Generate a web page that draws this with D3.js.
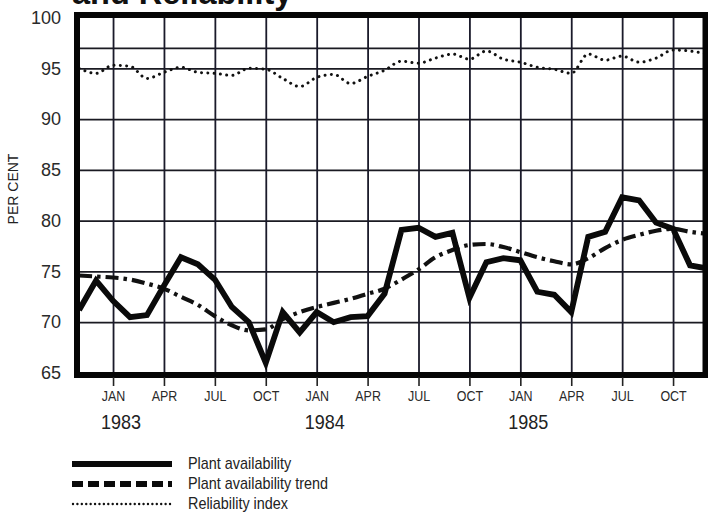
<!DOCTYPE html>
<html>
<head>
<meta charset="utf-8">
<script src="https://cdn.jsdelivr.net/npm/d3@7"></script>
<style>
  html, body { margin: 0; padding: 0; background: #fff; }
  svg { display: block; }
</style>
</head>
<body>
<svg id="chart" width="708" height="518"></svg>
<script>
// ---- data (monthly, Nov 1982 .. Dec 1985) ----
const monthIndex = d3.range(38); // 0 = Nov 1982
const plantAvailability = [71.2, 74.1,
  72.1, 70.5, 70.7, 73.6, 76.4, 75.7, 74.2, 71.5, 70.0, 66.0, 71.0, 69.0,
  71.0, 70.0, 70.5, 70.6, 72.8, 79.1, 79.3, 78.4, 78.8, 72.4, 75.9, 76.3,
  76.1, 73.0, 72.7, 71.0, 78.4, 78.9, 82.3, 82.0, 79.8, 79.2, 75.6, 75.3];
const availabilityTrend = [74.6, 74.5,
  74.4, 74.2, 73.8, 73.3, 72.5, 71.7, 70.6, 69.7, 69.2, 69.3, 70.3, 71.0,
  71.5, 71.9, 72.3, 72.8, 73.3, 74.2, 75.2, 76.4, 77.1, 77.6, 77.7, 77.4,
  76.9, 76.4, 76.0, 75.7, 76.3, 77.3, 78.1, 78.6, 79.0, 79.2, 78.9, 78.7];
const reliabilityIndex = [95.0, 94.5,
  95.3, 95.2, 94.0, 94.6, 95.1, 94.6, 94.5, 94.3, 95.0, 94.9, 94.0, 93.2,
  94.1, 94.4, 93.5, 94.2, 94.8, 95.7, 95.5, 96.0, 96.4, 95.9, 96.7, 95.9,
  95.6, 95.1, 94.9, 94.5, 96.4, 95.8, 96.2, 95.6, 96.0, 96.8, 96.7, 96.4];
const quarterTicks = [2, 5, 8, 11, 14, 17, 20, 23, 26, 29, 32, 35];
const quarterLabels = ["JAN", "APR", "JUL", "OCT"];
const years = [{label: "1983", m: 2}, {label: "1984", m: 14}, {label: "1985", m: 26}];
const yTicks = [65, 70, 75, 80, 85, 90, 95, 100];
const yGrid = [70, 75, 80, 85, 90, 95, 97];
const legendItems = ["Plant availability", "Plant availability trend", "Reliability index"];

// ---- layout ----
const svg = d3.select("#chart");
const x = d3.scaleLinear().domain([0, 37]).range([79.1, 707]);
const y = d3.scaleLinear().domain([65, 100]).range([373, 17.5]);
const frame = {left: 77, top: 15, right: 705.5, bottom: 375};
const FONT = "Liberation Sans, Arial, Helvetica, sans-serif";

// title (cut off at top, as in the source)
svg.append("text")
  .attr("x", 72).attr("y", 4)
  .attr("font-family", FONT)
  .attr("font-weight", "bold").attr("font-size", 32.5)
  .attr("fill", "#111")
  .text("and Reliability");

// horizontal gridlines
const gGridY = svg.append("g")
  .attr("transform", `translate(${frame.left},0)`)
  .call(d3.axisLeft(y).tickValues(yGrid).tickSize(-(frame.right - frame.left)).tickFormat(""));
gGridY.select(".domain").remove();
gGridY.selectAll(".tick line").attr("stroke", "#1a1a22").attr("stroke-width", 1.8);

// vertical gridlines
const gGridX = svg.append("g")
  .attr("transform", `translate(0,${frame.top})`)
  .call(d3.axisBottom(x).tickValues(quarterTicks).tickSize(frame.bottom - frame.top).tickFormat(""));
gGridX.select(".domain").remove();
gGridX.selectAll(".tick line").attr("stroke", "#1a1a2a").attr("stroke-width", 1.8);

// clip for data lines
svg.append("clipPath").attr("id", "plotclip")
  .append("rect").attr("x", frame.left).attr("y", frame.top)
  .attr("width", frame.right - frame.left).attr("height", frame.bottom - frame.top);

const plot = svg.append("g").attr("clip-path", "url(#plotclip)");

const lineFor = (arr, curve) => d3.line()
  .x((d, i) => x(monthIndex[i]))
  .y(d => y(d))
  .curve(curve)(arr);

// reliability index (dotted)
plot.append("path")
  .attr("d", lineFor(reliabilityIndex, d3.curveMonotoneX))
  .attr("fill", "none").attr("stroke", "#111")
  .attr("stroke-width", 3).attr("stroke-linecap", "round")
  .attr("stroke-dasharray", "0.01,6.3");

// trend (dash-dot)
plot.append("path")
  .attr("d", lineFor(availabilityTrend, d3.curveMonotoneX))
  .attr("fill", "none").attr("stroke", "#111")
  .attr("stroke-width", 4.2)
  .attr("stroke-dasharray", "13,5,3.5,5");

// plant availability (solid)
plot.append("path")
  .attr("d", lineFor(plantAvailability, d3.curveLinear))
  .attr("fill", "none").attr("stroke", "#0a0a0a")
  .attr("stroke-width", 5.8).attr("stroke-linejoin", "miter").attr("stroke-miterlimit", 3);

// frame
svg.append("rect")
  .attr("x", frame.left).attr("y", frame.top)
  .attr("width", frame.right - frame.left).attr("height", frame.bottom - frame.top)
  .attr("fill", "none").attr("stroke", "#050505").attr("stroke-width", 6);

// y axis labels
const gY = svg.append("g")
  .attr("transform", `translate(61,0)`)
  .call(d3.axisLeft(y).tickValues(yTicks).tickSize(0).tickPadding(0));
gY.select(".domain").remove();
gY.selectAll("text")
  .attr("font-family", FONT)
  .attr("font-size", 18).attr("fill", "#2a2a2a");

// y title
svg.append("text")
  .attr("transform", "translate(18,189) rotate(-90)")
  .attr("text-anchor", "middle")
  .attr("font-family", FONT)
  .attr("font-size", 14).attr("fill", "#222")
  .text("PER CENT");

// x axis (ticks + month labels)
const gX = svg.append("g")
  .attr("transform", `translate(0,${frame.bottom + 2})`)
  .call(d3.axisBottom(x).tickValues(quarterTicks).tickSize(9).tickPadding(5)
    .tickFormat((d, i) => quarterLabels[i % 4]));
gX.select(".domain").remove();
gX.selectAll(".tick line").attr("stroke", "#222").attr("stroke-width", 1.6);
gX.selectAll("text")
  .attr("font-family", FONT)
  .attr("font-size", 14.5).attr("fill", "#2a2a2a")
  .attr("transform", "scale(0.86,1)");

// year labels
svg.append("g").selectAll("text").data(years).join("text")
  .attr("transform", d => `translate(${x(d.m) + 8},429) scale(0.9,1)`)
  .attr("text-anchor", "middle")
  .attr("font-family", FONT)
  .attr("font-size", 20).attr("fill", "#222")
  .text(d => d.label);

// legend
const legendY = [464, 484, 504];
const lg = svg.append("g");
lg.append("line").attr("x1", 72).attr("x2", 172).attr("y1", legendY[0]).attr("y2", legendY[0])
  .attr("stroke", "#0a0a0a").attr("stroke-width", 5.8);
lg.append("line").attr("x1", 72).attr("x2", 172).attr("y1", legendY[1]).attr("y2", legendY[1])
  .attr("stroke", "#0a0a0a").attr("stroke-width", 5.8).attr("stroke-dasharray", "11,5");
lg.append("line").attr("x1", 73).attr("x2", 172).attr("y1", legendY[2]).attr("y2", legendY[2])
  .attr("stroke", "#111").attr("stroke-width", 2.4).attr("stroke-linecap", "round")
  .attr("stroke-dasharray", "0.01,4.4");
lg.selectAll("text").data(legendItems).join("text")
  .attr("transform", (d, i) => `translate(188,${legendY[i] + 5}) scale(0.9,1)`)
  .attr("font-family", FONT)
  .attr("font-size", 16).attr("fill", "#222")
  .text(d => d);
</script>
</body>
</html>
